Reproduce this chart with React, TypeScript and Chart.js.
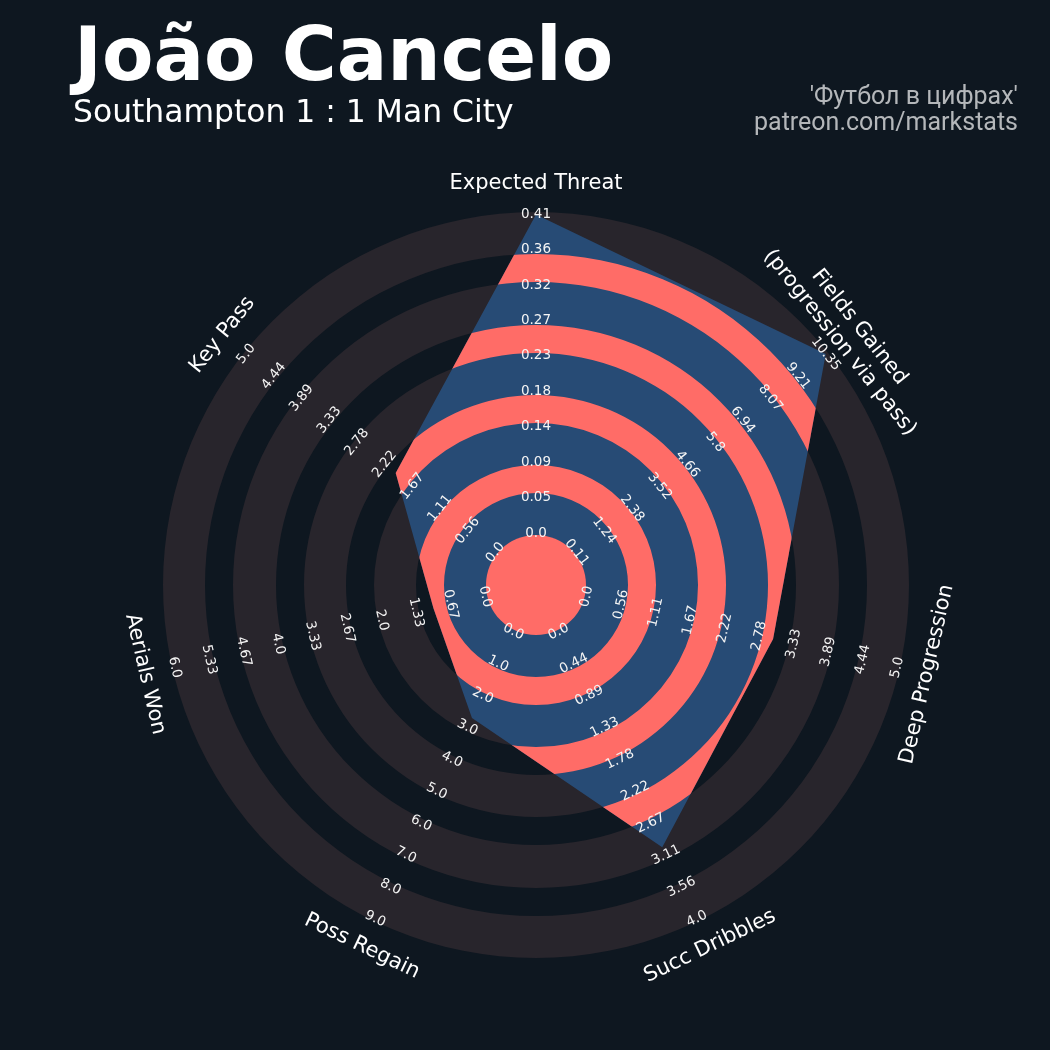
import React, { useEffect, useRef } from "react";
import { Chart, registerables } from "chart.js";

Chart.register(...registerables);

// ---------- data ----------
const PARAMS = [
  "Expected Threat",
  "Fields Gained\n(progression via pass)",
  "Deep Progression",
  "Succ Dribbles",
  "Poss Regain",
  "Aerials Won",
  "Key Pass",
];
const RANGE_LOW = [0, 0.11, 0, 0, 0, 0, 0];
const RANGE_HIGH = [0.41, 10.35, 5, 4, 9, 6, 5];
const PLAYER_VALUES = [0.41, 10.35, 3, 3, 2.7, 1, 2];

const TICKS_XT = ["0.0", "0.05", "0.09", "0.14", "0.18", "0.23", "0.27", "0.32", "0.36", "0.41"];
const TICKS_FG = ["0.11", "1.24", "2.38", "3.52", "4.66", "5.8", "6.94", "8.07", "9.21", "10.35"];
const TICKS_DP = ["0.0", "0.56", "1.11", "1.67", "2.22", "2.78", "3.33", "3.89", "4.44", "5.0"];
const TICKS_SD = ["0.0", "0.44", "0.89", "1.33", "1.78", "2.22", "2.67", "3.11", "3.56", "4.0"];
const TICKS_PR = ["0.0", "1.0", "2.0", "3.0", "4.0", "5.0", "6.0", "7.0", "8.0", "9.0"];
const TICKS_AW = ["0.0", "0.67", "1.33", "2.0", "2.67", "3.33", "4.0", "4.67", "5.33", "6.0"];
const TICKS_KP = ["0.0", "0.56", "1.11", "1.67", "2.22", "2.78", "3.33", "3.89", "4.44", "5.0"];
const TICK_LABELS = [TICKS_XT, TICKS_FG, TICKS_DP, TICKS_SD, TICKS_PR, TICKS_AW, TICKS_KP];

const TITLE = "João Cancelo";
const SUBTITLE = "Southampton 1 : 1 Man City";
const CREDIT_1 = "'Футбол в цифрах'";
const CREDIT_2 = "patreon.com/markstats";

// ---------- styles ----------
const BG = "#0e1720";
const RING_GREY = "#28252c";
const POLY_BLUE = "#274b75";
const POLY_RED = "#ff6c67";
const OUTER_R_PX = 373;
// ring edges in px at the outer radius above (scaled to the scale's drawing area)
const RING_EDGES = [50, 92, 120, 162, 190, 232, 260, 303, 331, 373];
const SCALE_MIN = -0.1632;
const SCALE_MAX = 1.0075;
const PARAM_LABEL_R = 401;

const normalized = PLAYER_VALUES.map((v, i) => (v - RANGE_LOW[i]) / (RANGE_HIGH[i] - RANGE_LOW[i]));

function tangentRotation(indexAngle: number) {
  let rot = indexAngle;
  while (rot > Math.PI / 2 + 1e-6) rot -= Math.PI;
  return rot;
}

const decorPlugin = {
  id: "radarDecor",
  beforeDatasetsDraw(chart: any) {
    const s = chart.scales.r;
    const ctx = chart.ctx;
    const k = s.drawingArea / OUTER_R_PX;
    ctx.save();
    ctx.fillStyle = RING_GREY;
    for (let i = 0; i + 1 < RING_EDGES.length; i += 2) {
      ctx.beginPath();
      ctx.arc(s.xCenter, s.yCenter, RING_EDGES[i + 1] * k, 0, Math.PI * 2);
      ctx.arc(s.xCenter, s.yCenter, RING_EDGES[i] * k, 0, Math.PI * 2, true);
      ctx.fill();
    }
    ctx.restore();
  },
  afterDatasetsDraw(chart: any) {
    const s = chart.scales.r;
    const ctx = chart.ctx;
    const k = s.drawingArea / OUTER_R_PX;
    const meta = chart.getDatasetMeta(0);
    ctx.save();
    ctx.beginPath();
    meta.data.forEach((p: any, i: number) => {
      if (i === 0) ctx.moveTo(p.x, p.y);
      else ctx.lineTo(p.x, p.y);
    });
    ctx.closePath();
    ctx.clip();
    ctx.fillStyle = POLY_RED;
    ctx.beginPath();
    ctx.arc(s.xCenter, s.yCenter, RING_EDGES[0] * k, 0, Math.PI * 2);
    ctx.fill();
    for (let i = 1; i + 1 < RING_EDGES.length; i += 2) {
      ctx.beginPath();
      ctx.arc(s.xCenter, s.yCenter, RING_EDGES[i + 1] * k, 0, Math.PI * 2);
      ctx.arc(s.xCenter, s.yCenter, RING_EDGES[i] * k, 0, Math.PI * 2, true);
      ctx.fill();
    }
    ctx.restore();

    // range labels
    ctx.save();
    ctx.fillStyle = "#f4f4f4";
    ctx.font = "13.5px 'DejaVu Sans'";
    ctx.textAlign = "center";
    ctx.textBaseline = "middle";
    TICK_LABELS.forEach((labels, i) => {
      const rot = tangentRotation(s.getIndexAngle(i));
      labels.forEach((t, j) => {
        const p = s.getPointPositionForValue(i, j / (labels.length - 1));
        ctx.save();
        ctx.translate(p.x, p.y);
        ctx.rotate(rot);
        ctx.fillText(t, 0, 0);
        ctx.restore();
      });
    });
    ctx.restore();

    // parameter labels
    ctx.save();
    ctx.fillStyle = "#ffffff";
    ctx.font = "21px 'DejaVu Sans'";
    ctx.textAlign = "center";
    ctx.textBaseline = "middle";
    PARAMS.forEach((name, i) => {
      const rot = tangentRotation(s.getIndexAngle(i));
      const p = s.getPointPosition(i, PARAM_LABEL_R * s.drawingArea / OUTER_R_PX);
      const lines = name.split("\n");
      ctx.save();
      ctx.translate(p.x, p.y);
      ctx.rotate(rot);
      lines.forEach((ln, j) => {
        ctx.fillText(ln, 0, (j - (lines.length - 1) / 2) * 25);
      });
      ctx.restore();
    });
    ctx.restore();
  },
};

export default function App() {
  const canvasRef = useRef<HTMLCanvasElement | null>(null);

  useEffect(() => {
    if (!canvasRef.current) return;
    const chart = new Chart(canvasRef.current, {
      type: "radar",
      data: {
        labels: PARAMS,
        datasets: [
          {
            data: normalized,
            backgroundColor: POLY_BLUE,
            borderWidth: 0,
            pointRadius: 0,
            fill: "start",
          },
        ],
      },
      options: {
        responsive: false,
        animation: false,
        devicePixelRatio: 1,
        layout: { padding: { left: 163, right: 141, top: 212, bottom: 92 } },
        plugins: {
          legend: { display: false },
          tooltip: { enabled: false },
          title: { display: false },
        },
        scales: {
          r: {
            min: SCALE_MIN,
            max: SCALE_MAX,
            beginAtZero: false,
            grid: { display: false },
            angleLines: { display: false },
            ticks: { display: false },
            pointLabels: { display: false },
          },
        },
      },
      plugins: [decorPlugin],
    });
    return () => chart.destroy();
  }, []);

  return (
    <div style={{ position: "absolute", left: 0, top: 0, width: 1050, height: 1050, background: BG, overflow: "hidden" }}>
      <canvas ref={canvasRef} width={1050} height={1050} style={{ position: "absolute", left: 0, top: 0 }} />
      <div
        style={{
          position: "absolute",
          left: 74,
          top: 17,
          font: "bold 75px 'DejaVu Sans'",
          lineHeight: "75px",
          color: "#ffffff",
          whiteSpace: "nowrap",
        }}
      >
        {TITLE}
      </div>
      <div
        style={{
          position: "absolute",
          left: 73,
          top: 96,
          font: "31.4px 'DejaVu Sans'",
          lineHeight: "31px",
          color: "#ffffff",
          whiteSpace: "nowrap",
        }}
      >
        {SUBTITLE}
      </div>
      <div
        style={{
          position: "absolute",
          right: 32,
          top: 83,
          font: "25px Roboto",
          lineHeight: "26px",
          color: "#b4b7ba",
          textAlign: "right",
          whiteSpace: "nowrap",
        }}
      >
        <div>{CREDIT_1}</div>
        <div>{CREDIT_2}</div>
      </div>
    </div>
  );
}
